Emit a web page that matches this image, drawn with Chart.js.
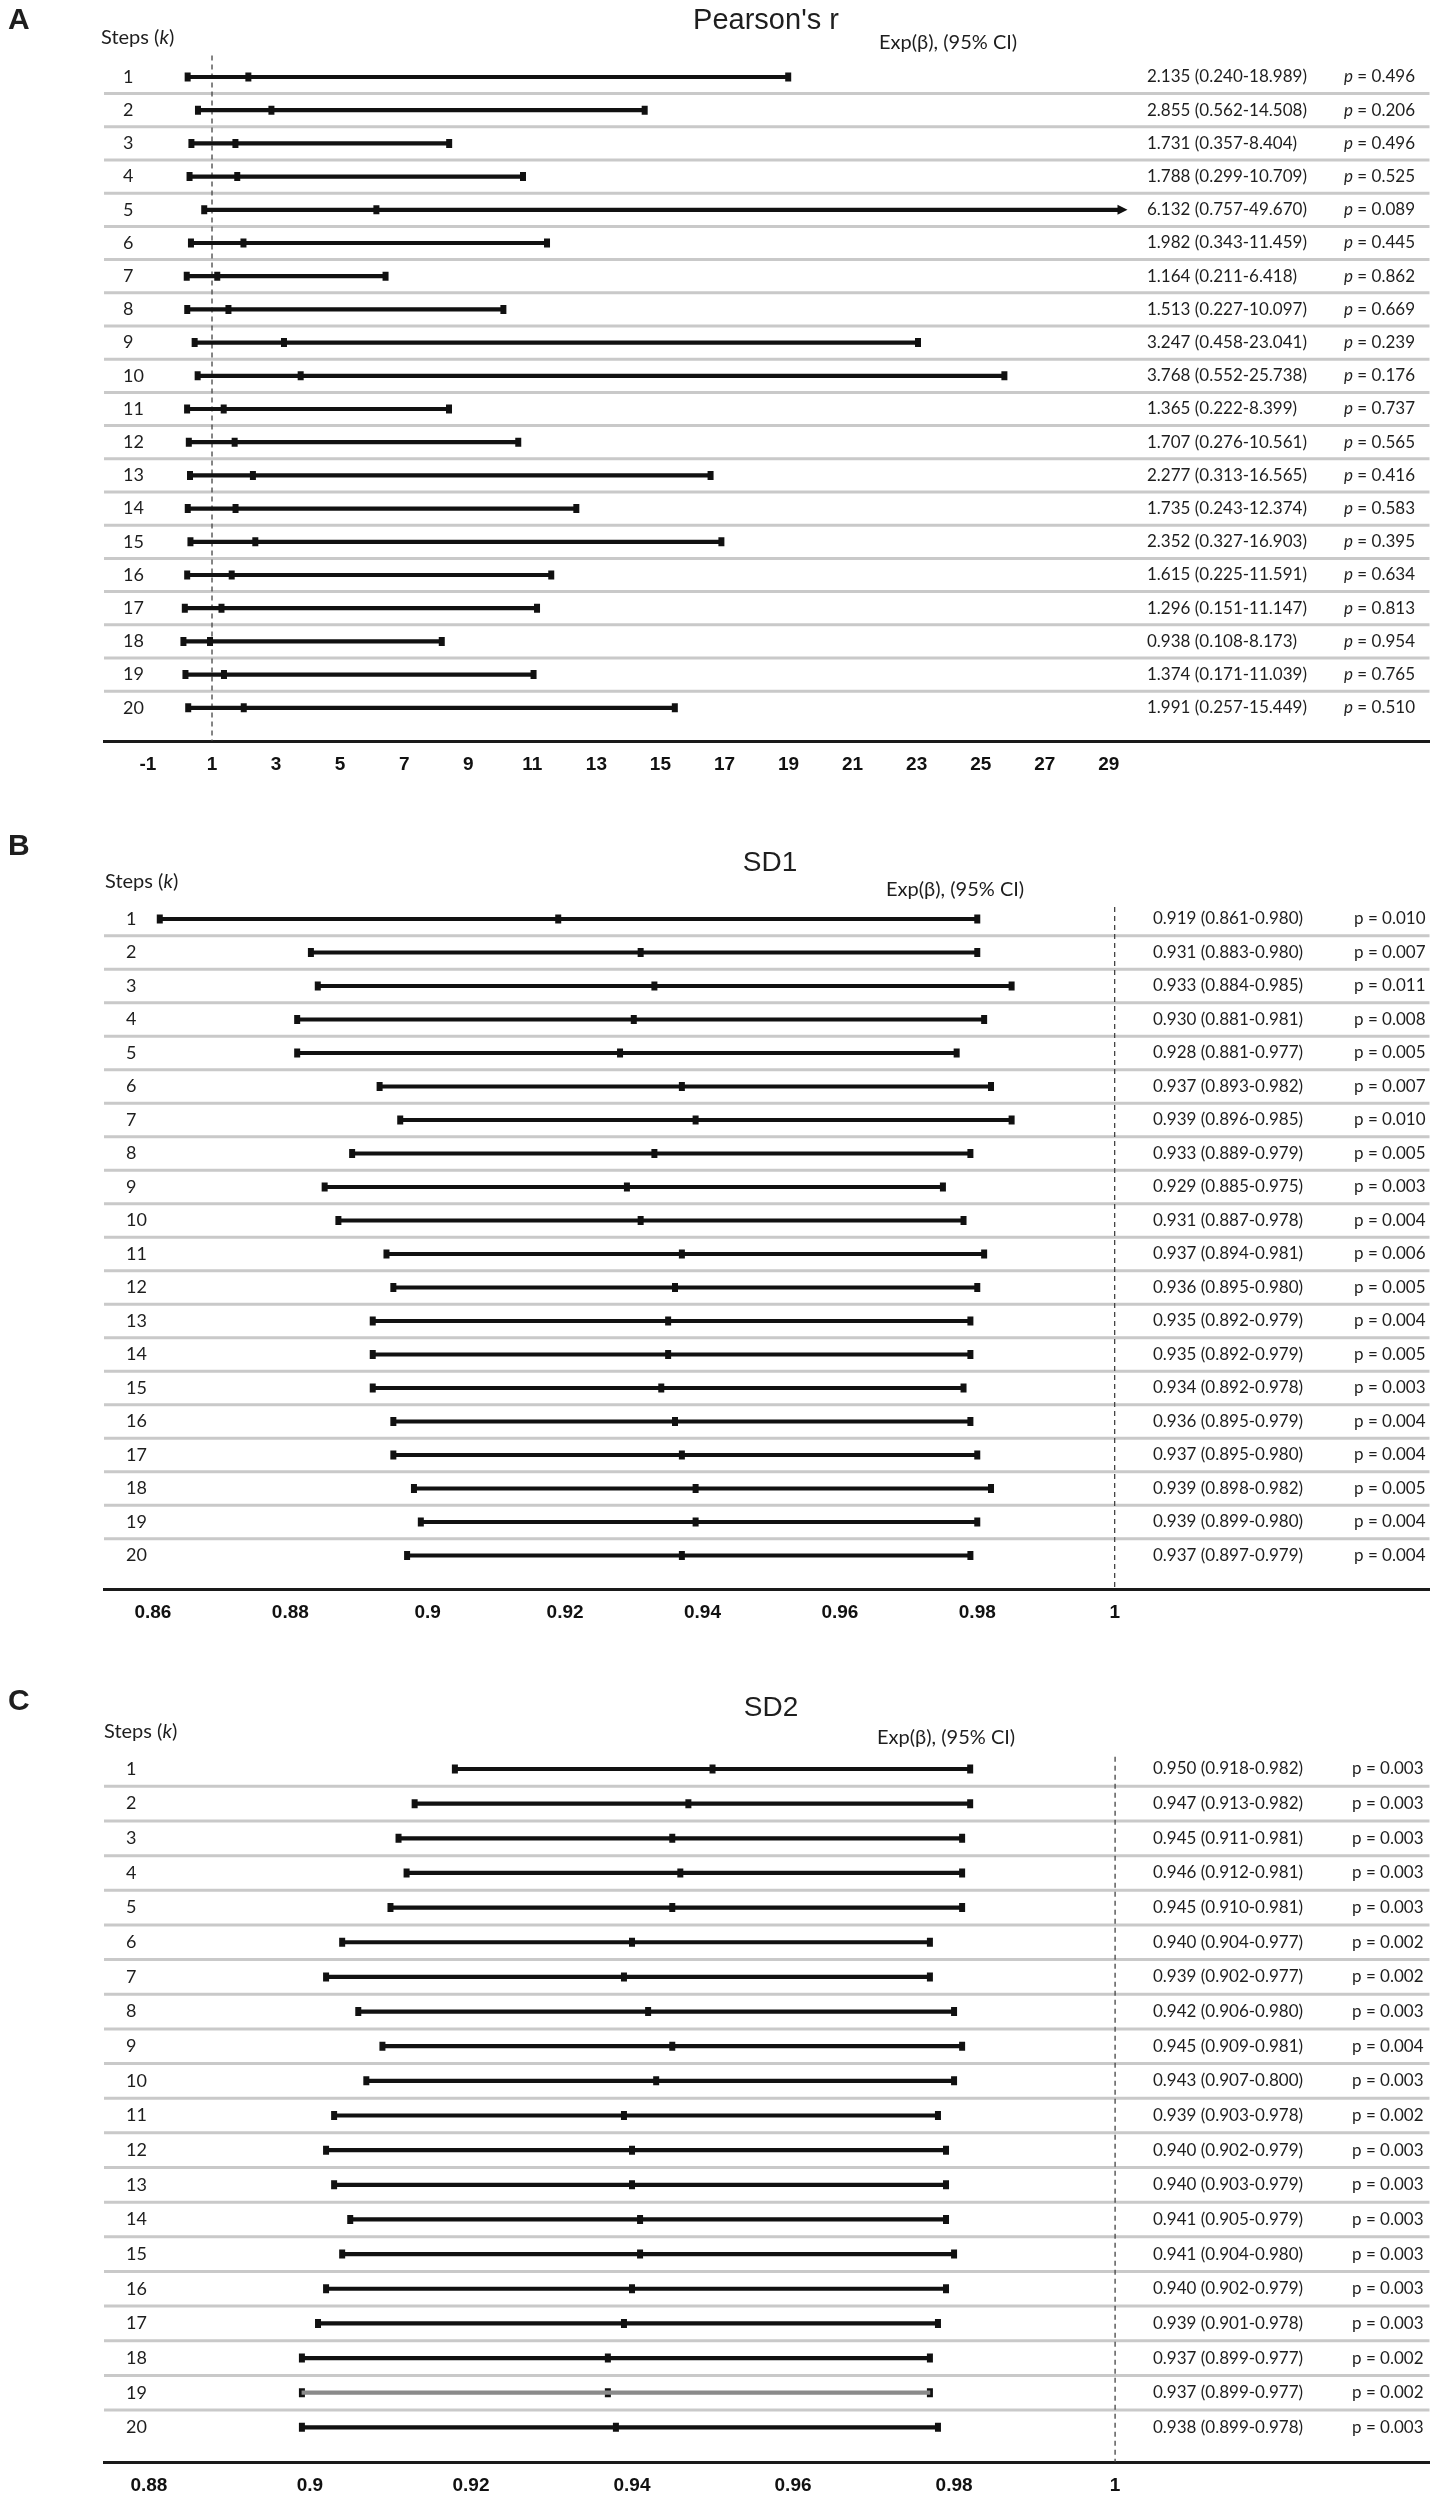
<!DOCTYPE html>
<html>
<head>
<meta charset="utf-8">
<title>Forest plots</title>
<script src="https://cdn.jsdelivr.net/npm/chart.js@4.4.1/dist/chart.umd.min.js"></script>
<style>
body{margin:0;background:#fff;}
.panel{position:absolute;left:0;width:1440px;}
canvas{display:block;}
</style>
</head>
<body>
<div class="panel" style="top:0"><canvas id="chartA" width="1440" height="800"></canvas></div>
<div class="panel" style="top:800px"><canvas id="chartB" width="1440" height="850"></canvas></div>
<div class="panel" style="top:1650px"><canvas id="chartC" width="1440" height="850"></canvas></div>
<script>
"use strict";
//steps k = 1..20
const steps=[1,2,3,4,5,6,7,8,9,10,11,12,13,14,15,16,17,18,19,20];

//A  Pearson's r
const pearsonEst=[2.135,2.855,1.731,1.788,6.132,1.982,1.164,1.513,3.247,3.768,1.365,1.707,2.277,1.735,2.352,1.615,1.296,0.938,1.374,1.991];
const pearsonLo=[0.240,0.562,0.357,0.299,0.757,0.343,0.211,0.227,0.458,0.552,0.222,0.276,0.313,0.243,0.327,0.225,0.151,0.108,0.171,0.257];
const pearsonHi=[18.989,14.508,8.404,10.709,49.670,11.459,6.418,10.097,23.041,25.738,8.399,10.561,16.565,12.374,16.903,11.591,11.147,8.173,11.039,15.449];
const pearsonP=[0.496,0.206,0.496,0.525,0.089,0.445,0.862,0.669,0.239,0.176,0.737,0.565,0.416,0.583,0.395,0.634,0.813,0.954,0.765,0.510];
const pearsonTicks=[-1,1,3,5,7,9,11,13,15,17,19,21,23,25,27,29];
const pearsonTickLabels=["-1","1","3","5","7","9","11","13","15","17","19","21","23","25","27","29"];

//B  SD1
const sd1Est=[0.919,0.931,0.933,0.930,0.928,0.937,0.939,0.933,0.929,0.931,0.937,0.936,0.935,0.935,0.934,0.936,0.937,0.939,0.939,0.937];
const sd1Lo=[0.861,0.883,0.884,0.881,0.881,0.893,0.896,0.889,0.885,0.887,0.894,0.895,0.892,0.892,0.892,0.895,0.895,0.898,0.899,0.897];
const sd1Hi=[0.980,0.980,0.985,0.981,0.977,0.982,0.985,0.979,0.975,0.978,0.981,0.980,0.979,0.979,0.978,0.979,0.980,0.982,0.980,0.979];
const sd1P=[0.010,0.007,0.011,0.008,0.005,0.007,0.010,0.005,0.003,0.004,0.006,0.005,0.004,0.005,0.003,0.004,0.004,0.005,0.004,0.004];
const sd1Ticks=[0.86,0.88,0.9,0.92,0.94,0.96,0.98,1];
const sd1TickLabels=["0.86","0.88","0.9","0.92","0.94","0.96","0.98","1"];

//C  SD2
const sd2Est=[0.950,0.947,0.945,0.946,0.945,0.940,0.939,0.942,0.945,0.943,0.939,0.940,0.940,0.941,0.941,0.940,0.939,0.937,0.937,0.938];
const sd2Lo=[0.918,0.913,0.911,0.912,0.910,0.904,0.902,0.906,0.909,0.907,0.903,0.902,0.903,0.905,0.904,0.902,0.901,0.899,0.899,0.899];
const sd2Hi=[0.982,0.982,0.981,0.981,0.981,0.977,0.977,0.980,0.981,0.800,0.978,0.979,0.979,0.979,0.980,0.979,0.978,0.977,0.977,0.978];
const sd2P=[0.003,0.003,0.003,0.003,0.003,0.002,0.002,0.003,0.004,0.003,0.002,0.003,0.003,0.003,0.003,0.003,0.003,0.002,0.002,0.003];
const sd2Ticks=[0.88,0.9,0.92,0.94,0.96,0.98,1];
const sd2TickLabels=["0.88","0.9","0.92","0.94","0.96","0.98","1"];
//step 10 is printed as 0.800 in the table, but the bar itself ends near 0.980
const sd2HiBar=sd2Hi.slice();
sd2HiBar[9]=0.980;

const FONT_BODY='Lato, "Noto Sans", sans-serif';
const FONT_HEAD='"Liberation Sans", Arial, sans-serif';
const INK='#1e1e1e';

function txt(ctx,s,x,y,font,align){
    ctx.font=font;
    ctx.textAlign=align||'left';
    ctx.textBaseline='middle';
    ctx.fillText(s,x,y);
    return ctx.measureText(s).width;
}

function makePanel(id,cfg){
    const hiBar=cfg.hiBar||cfg.hi;
    const arrowAt=cfg.arrowAt||Infinity;
    //CI bars
    const barData=steps.map((k,i)=>({y:k,x:[cfg.lo[i],Math.min(hiBar[i],arrowAt)]}));
    //markers at lower, estimate, upper
    const markData=[];
    steps.forEach((k,i)=>{
        markData.push({x:cfg.lo[i],y:k});
        markData.push({x:cfg.est[i],y:k});
        if(hiBar[i]<=arrowAt)markData.push({x:hiBar[i],y:k});
    });
    //one row in C is printed in a lighter, thinner line
    const isLight=i=>cfg.lightRow===steps[i];

    const decor={
        id:'decor',
        beforeDatasetsDraw(chart){
            const ctx=chart.ctx,a=chart.chartArea,xs=chart.scales.x,ys=chart.scales.y;
            ctx.save();
            //row separators
            ctx.strokeStyle='#c9c9c9';
            ctx.lineWidth=3;
            for(let k=1;k<steps.length;k++){
                const y=ys.getPixelForValue(k+0.5);
                ctx.beginPath();ctx.moveTo(a.left,y);ctx.lineTo(a.right,y);ctx.stroke();
            }
            //reference line at 1
            ctx.strokeStyle='#444';
            ctx.lineWidth=1.3;
            ctx.setLineDash([5,4]);
            const rx=xs.getPixelForValue(1);
            ctx.beginPath();ctx.moveTo(rx,ys.getPixelForValue(cfg.refTop));ctx.lineTo(rx,a.bottom);ctx.stroke();
            ctx.restore();
        },
        afterDatasetsDraw(chart){
            if(!isFinite(arrowAt))return;
            const ctx=chart.ctx,xs=chart.scales.x,ys=chart.scales.y;
            ctx.save();
            ctx.fillStyle='#111';
            steps.forEach((k,i)=>{
                if(hiBar[i]<=arrowAt)return;
                const x=xs.getPixelForValue(arrowAt),y=ys.getPixelForValue(k);
                ctx.beginPath();ctx.moveTo(x+9,y);ctx.lineTo(x-1,y-5);ctx.lineTo(x-1,y+5);ctx.closePath();ctx.fill();
            });
            ctx.restore();
        },
        afterDraw(chart){
            const ctx=chart.ctx,ys=chart.scales.y;
            ctx.save();
            ctx.fillStyle=INK;
            txt(ctx,cfg.letter,cfg.letterPos[0],cfg.letterPos[1],'bold 30px '+FONT_HEAD);
            txt(ctx,cfg.title,cfg.titlePos[0],cfg.titlePos[1],cfg.titleSize+'px '+FONT_HEAD,'center');
            //Steps (k)
            let x=cfg.stepsPos[0];
            x+=txt(ctx,'Steps (',x,cfg.stepsPos[1],'20px '+FONT_BODY);
            x+=txt(ctx,'k',x,cfg.stepsPos[1],'italic 20px '+FONT_BODY);
            txt(ctx,')',x,cfg.stepsPos[1],'20px '+FONT_BODY);
            txt(ctx,'Exp(\u03b2), (95% CI)',cfg.expPos[0],cfg.expPos[1],'20px '+FONT_BODY);
            steps.forEach((k,i)=>{
                const y=ys.getPixelForValue(k);
                txt(ctx,String(k),cfg.rowLabelX,y,'18px '+FONT_BODY);
                const ci=cfg.est[i].toFixed(3)+' ('+cfg.lo[i].toFixed(3)+'-'+cfg.hi[i].toFixed(3)+')';
                txt(ctx,ci,cfg.ciX,y,'17px '+FONT_BODY);
                let px=cfg.pX;
                px+=txt(ctx,'p',px,y,(cfg.italicP?'italic ':'')+'17px '+FONT_BODY);
                txt(ctx,' = '+cfg.p[i].toFixed(3),px,y,'17px '+FONT_BODY);
            });
            ctx.restore();
        }
    };

    return new Chart(document.getElementById(id),{
        type:'bar',
        data:{
            datasets:[{
                type:'bar',
                indexAxis:'y',
                data:barData,
                backgroundColor:c=>isLight(c.dataIndex)?'#8a8a8a':'#111',
                borderWidth:0,
                barThickness:3.5,
                grouped:false
            },{
                type:'scatter',
                data:markData,
                pointStyle:'line',
                pointRotation:90,
                pointRadius:4.5,
                pointHoverRadius:4.5,
                pointBorderWidth:6,
                pointBorderColor:'#111',
                pointBackgroundColor:'#111'
            }]
        },
        options:{
            responsive:false,
            animation:false,
            indexAxis:'y',
            layout:{padding:{left:104,right:0,top:cfg.padTop,bottom:cfg.padBottom}},
            scales:{
                x:{
                    type:'linear',
                    offset:false,
                    min:cfg.xMin,
                    max:cfg.xMax,
                    grid:{display:false,drawTicks:false},
                    border:{display:true,color:'#1a1a1a',width:3},
                    afterBuildTicks:s=>{s.ticks=cfg.ticks.map(v=>({value:v}));},
                    afterFit:s=>{s.height=30;},
                    ticks:{
                        autoSkip:false,
                        maxRotation:0,
                        padding:12,
                        color:'#111',
                        font:{family:FONT_HEAD,size:19,weight:'bold'},
                        callback:(v,i)=>cfg.tickLabels[i]
                    }
                },
                y:{type:'linear',offset:false,min:0,max:21,reverse:true,display:false}
            },
            plugins:{legend:{display:false},tooltip:{enabled:false}}
        },
        plugins:[decor]
    });
}

makePanel('chartA',{
    est:pearsonEst,lo:pearsonLo,hi:pearsonHi,p:pearsonP,
    ticks:pearsonTicks,tickLabels:pearsonTickLabels,
    arrowAt:29.3,
    xMin:-2.372,xMax:39.01,padTop:43.8,padBottom:29,refTop:0.35,
    letter:'A',letterPos:[8,21],title:"Pearson's r",titleSize:29,titlePos:[766,21],
    stepsPos:[101,38],expPos:[879,43],rowLabelX:123,ciX:1147,pX:1344,italicP:true
});
makePanel('chartB',{
    est:sd1Est,lo:sd1Lo,hi:sd1Hi,p:sd1P,
    ticks:sd1Ticks,tickLabels:sd1TickLabels,
    xMin:0.85288,xMax:1.04583,padTop:85.5,padBottom:31,refTop:0.64,
    letter:'B',letterPos:[8,47],title:'SD1',titleSize:28,titlePos:[770,63],
    stepsPos:[105,82],expPos:[886,90],rowLabelX:126,ciX:1153,pX:1354,italicP:false
});
makePanel('chartC',{
    est:sd2Est,lo:sd2Lo,hi:sd2Hi,hiBar:sd2HiBar,p:sd2P,
    ticks:sd2Ticks,tickLabels:sd2TickLabels,lightRow:19,
    xMin:0.874418,xMax:1.039051,padTop:84.35,padBottom:8,refTop:0.65,
    letter:'C',letterPos:[8,52],title:'SD2',titleSize:28,titlePos:[771,58],
    stepsPos:[104,82],expPos:[877,88],rowLabelX:126,ciX:1153,pX:1352,italicP:false
});
</script>
</body>
</html>
